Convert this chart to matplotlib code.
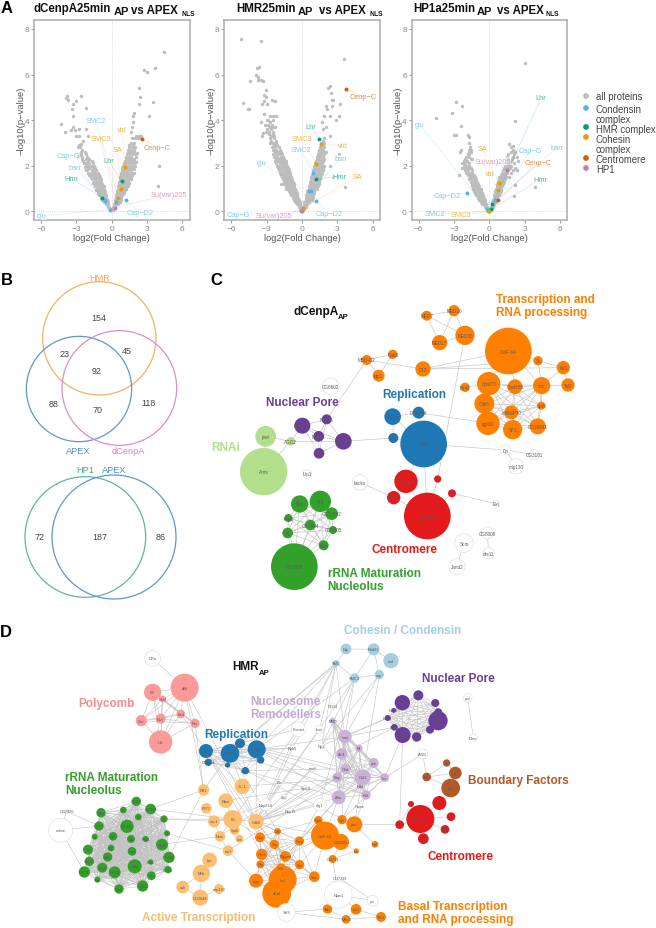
import itertools
import matplotlib
matplotlib.use("Agg")
import matplotlib.pyplot as plt
from matplotlib.patches import Circle

plt.rcParams['font.family'] = ['Liberation Sans', 'DejaVu Sans']

# ---------- colours ----------
GREY = '#bdbdbd'
COND, HMRC, COH, CEN, HP1C = '#56B4E9', '#009E73', '#E69F00', '#D55E00', '#CC79A7'

# ---------- panel A: dense cloud, rows of log10 p : log2 FC values ----------
p1_cloud = {
 .05:[.05,-.05,.1,-.1], .1:[.1,.15,-.1,-.15], .2:[.1,.2,.3,-.2,-.3], .3:[.2,.3,.4,.5,-.3,-.4,-.5],
 .4:[.25,.4,.55,.7,-.35,-.5,-.65], .5:[.3,.45,.6,.75,-.4,-.55,-.7,-.85], .6:[.35,.5,.65,.8,-.45,-.6,-.75,-.9],
 .7:[.4,.55,.7,.85,-.5,-.65,-.8,-.95,-1.05], .8:[.45,.6,.75,.9,1.0,-.55,-.7,-.85,-1,-1.15],
 .9:[.45,.6,.75,.9,1.05,-.6,-.75,-.9,-1.05,-1.2], 1.0:[.5,.65,.8,.95,1.1,-.65,-.8,-.95,-1.1,-1.25],
 1.1:[.55,.7,.85,1,1.15,1.3,-.7,-.85,-1,-1.15,-1.3], 1.2:[.6,.75,.9,1.05,1.2,1.35,-.8,-.95,-1.1,-1.25,-1.4],
 1.3:[.65,.8,.95,1.1,1.25,1.4,-.9,-1.05,-1.2,-1.35,-1.5], 1.4:[.7,.85,1,1.15,1.3,1.45,-.95,-1.1,-1.3,-1.45],
 1.5:[.7,.85,1,1.2,1.35,1.5,-1,-1.2,-1.4,-1.6], 1.6:[.75,.9,1.05,1.25,1.4,1.55,-1.1,-1.3,-1.5,-1.7],
 1.7:[.8,1,1.15,1.3,1.5,1.7,-1.2,-1.4,-1.6,-1.8], 1.8:[.85,1.05,1.2,1.4,1.6,-1.3,-1.5,-1.7],
 1.9:[.9,1.1,1.3,1.5,1.7,-1.4,-1.6,-1.9], 2.0:[.95,1.15,1.35,1.55,1.8,-1.5,-1.8,-2.0],
 2.1:[1.05,1.25,1.45,1.65,1.9,-1.6,-1.9,-2.2], 2.2:[1.1,1.3,1.5,1.7,-1.7,-2.0,-2.4],
 2.3:[1.2,1.4,1.6,1.85,-1.9,-2.2], 2.4:[1.25,1.45,1.65,-2.1,-2.5], 2.5:[1.3,1.5,1.75,2.0,-2.2,-2.7],
 2.6:[1.4,1.6,1.85,-2.3,-2.6], 2.7:[1.4,1.65,1.9,-2.5], 2.8:[1.5,1.7,2.0,-2.7,-2.9], 2.9:[1.5,1.8,-2.8],
 3.0:[1.6,1.9], 3.2:[1.7,2.0,2.2,2.4], 3.3:[2.1,2.3,2.5],
}
p1_out_x = [4.4,2.7,3.0,3.7,2.3,2.4,3.5,3.2,2.3,1.9,1.8,1.8,1.7,1.6,4.0,3.95,-3.8,-3.85,-3.75,-2.6,-3.0,-3.3,-3.4,-2.2,-3.3,-4.3,-3.95,-3.5,-3.0,-2.8,-2.2,-2.0,-3.3,-3.1,-2.75,-2.65,-2.75,-2.4,-2.9,
 1.25,1.4,1.5,1.6,1.65,1.75,1.85,1.9,1.95,2.05,1.9,2.05,2.15,-1.35,-1.45,-1.55,-1.65,-1.8,-1.9,-2,-2.05,-2.2,-2.35,-2.5,-2.6,-2.15,-2.3]
p1_out_y = [7.0,6.2,6.1,6.3,5.4,5.0,4.8,4.2,4.7,4.3,4.2,3.9,3.7,3.5,2.0,1.1,5.05,4.95,4.9,5.05,4.85,4.7,4.5,4.55,4.2,3.85,3.5,3.55,3.3,3.6,3.6,3.3,3.7,3.55,3.3,2.95,2.85,3.1,2.4,
 1.0,1.1,1.25,1.4,1.5,1.6,1.7,1.85,2.0,2.15,2.25,2.4,2.55,.95,1.1,1.25,1.4,1.5,1.6,1.7,1.85,2.0,2.1,2.3,2.45,1.8,1.95]

p2_cloud = {
 .05:[.05,-.05,.1,-.1], .1:[.1,.15,-.1,-.15], .2:[.1,.2,.3,-.1,-.2,-.3], .3:[.15,.25,.35,.45,-.15,-.25,-.35,-.45],
 .4:[.2,.3,.4,.5,.6,-.2,-.3,-.4,-.5,-.6], .5:[.3,.4,.5,.6,.7,.85,-.3,-.4,-.5,-.6,-.7], .6:[.3,.45,.6,.75,.9,-.35,-.5,-.65,-.8],
 .7:[.35,.5,.65,.8,.95,-.4,-.55,-.7,-.85,-.95], .8:[.4,.55,.7,.85,1.0,-.45,-.6,-.75,-.9,-1.05],
 .9:[.45,.6,.75,.9,1.05,-.5,-.65,-.8,-.95,-1.1], 1.0:[.55,.7,.85,1,1.15,1.3,-.6,-.75,-.9,-1.05,-1.2,-1.35],
 1.1:[.6,.75,.9,1.05,1.2,1.35,-.65,-.8,-.95,-1.1,-1.25,-1.4], 1.2:[.65,.8,.95,1.1,1.25,1.4,-.7,-.85,-1,-1.15,-1.3,-1.5],
 1.3:[.7,.85,1,1.15,1.3,1.45,-.8,-.95,-1.1,-1.25,-1.4,-1.55], 1.4:[.75,.9,1.05,1.2,1.35,1.5,-.85,-1,-1.15,-1.3,-1.45,-1.6],
 1.5:[.8,.95,1.1,1.25,1.4,1.55,-.9,-1.05,-1.2,-1.35,-1.5,-1.7], 1.6:[.85,1,1.15,1.3,1.45,1.6,-1,-1.15,-1.3,-1.45,-1.6,-1.8],
 1.7:[.9,1.05,1.2,1.35,1.5,1.7,-1.05,-1.2,-1.35,-1.5,-1.7,-1.9], 1.8:[.95,1.1,1.25,1.4,1.55,1.75,-1.1,-1.25,-1.4,-1.55,-1.75,-1.95],
 1.9:[1,1.15,1.3,1.45,1.6,1.8,-1.2,-1.35,-1.5,-1.7,-1.9,-2.05], 2.0:[1.05,1.2,1.35,1.5,1.65,1.85,-1.3,-1.45,-1.6,-1.8,-2,-2.15],
 2.1:[1.1,1.25,1.4,1.55,1.7,-1.35,-1.5,-1.7,-1.9,-2.2], 2.2:[1.2,1.35,1.5,1.65,1.8,-1.4,-1.6,-1.8,-2,-2.3],
 2.3:[1.25,1.4,1.55,1.7,1.9,-1.5,-1.7,-1.95,-2.2], 2.4:[1.3,1.45,1.6,1.75,-1.6,-1.8,-2.1,-2.35],
 2.5:[1.35,1.5,1.65,1.85,-1.7,-1.95,-2.2,-2.5], 2.6:[1.4,1.55,1.75,2.05,-1.8,-2.05,-2.3], 2.7:[1.45,1.6,1.8,-1.9,-2.2,-2.5],
 2.8:[1.5,1.65,1.9,-1.95,-2.3,-2.55], 2.9:[1.6,1.8,-2.1,-2.4], 3.0:[1.65,1.85,-2.2,-2.5,-2.75], 3.1:[1.75,-2.25,-2.6],
 3.2:[1.9,-2.35,-2.7], 3.3:[-2.4,-2.6], 3.4:[-2.45,-2.8], 3.5:[-2.5,-2.8], 3.6:[-2.6], 3.7:[-2.3,-2.7], 3.8:[-2.55,-2.9],
 3.9:[-2.75], 4.0:[-2.5,-2.85,-2.95], 4.2:[-2.2,-2.45,-2.7],
}
p2_out_x = [3.55,3.75,3.2,2.4,2.2,2.45,2.5,2.6,2.5,2.4,2.15,2.0,1.9,2.85,3.1,2.4,2.0,1.8,1.7,3.65,3.1,2.4,2.6,-5.15,-3.45,-3.65,-3.85,-3.95,-3.75,-3.45,-3.3,-3.1,-3.7,-3.1,-3.2,-4.4,-5.05,-4.6,-4.5,-3.0,-2.55,-2.3,-3.2,-3.4,-3.25,-3.5,-3.15,-3.1,-2.5,-2.8,-3.3,-3.0,-1.75,-3.4]
p2_out_y = [6.7,5.35,4.7,5.5,5.4,5.2,4.9,4.9,4.6,4.2,4.5,4.6,4.2,4.0,4.2,3.3,3.7,3.6,3.9,1.05,2.5,2.0,1.5,7.55,7.45,6.35,6.3,6.0,5.9,5.75,5.7,5.3,5.75,5.0,4.85,5.7,4.75,4.5,4.5,4.7,4.9,4.85,5.1,4.7,4.25,3.9,3.8,3.5,3.7,3.45,3.45,3.6,1.2,3.3]

p3_cloud = {
 .05:[.05,-.05,.1,-.1], .1:[.1,.15,-.1,-.15,-.2], .2:[.1,.2,.3,-.2,-.3,-.4], .3:[.2,.3,.4,-.3,-.4,-.5,-.6],
 .4:[.25,.35,.45,.55,-.35,-.5,-.65,-.75], .5:[.3,.4,.5,.6,-.4,-.55,-.7,-.85], .6:[.35,.45,.55,.65,-.5,-.65,-.8,-.95],
 .7:[.4,.5,.6,.7,.85,-.55,-.7,-.85,-1.0,-1.15], .8:[.45,.55,.65,.75,.9,-.6,-.75,-.9,-1.05,-1.2],
 .9:[.5,.6,.7,.8,.95,-.7,-.85,-1.0,-1.15,-1.3], 1.0:[.55,.65,.75,.85,1.0,-.75,-.9,-1.05,-1.2,-1.4],
 1.1:[.6,.7,.8,.9,1.05,-.85,-1.0,-1.15,-1.3,-1.5], 1.2:[.65,.75,.85,.95,1.15,-.95,-1.1,-1.25,-1.45], 1.3:[.7,.8,.9,1.05,1.2,-1.05,-1.2,-1.35,-1.55],
 1.4:[.8,.95,1.1,1.3,-1.15,-1.3,-1.5,-1.7], 1.5:[.85,1.0,1.2,1.4,1.7,-1.25,-1.45,-1.65], 1.6:[.95,1.15,1.35,-1.3,-1.55,-1.8,-2.6],
 1.7:[1.05,1.3,1.5,1.8,-1.45,-1.7,-2.0], 1.8:[1.15,1.4,1.6,2.0,-1.5,-1.8,-2.1], 1.9:[1.25,1.45,1.75,2.2,-1.6,-1.85,-2.1,-2.3],
 2.0:[1.3,1.6,1.85,-1.7,-1.95,-2.2], 2.1:[1.45,1.7,2.1,-1.75,-2.05,-2.3], 2.2:[1.5,1.8,2.4,-1.9,-2.2,-2.0], 2.3:[1.6,1.9,-2.05,-1.6,-1.5],
 2.4:[1.5,2.0,2.3,-1.95,-1.75], 2.5:[1.6,2.1,-1.8,-1.7], 2.6:[1.8,2.2,-2.5,-1.6,-1.75], 2.7:[2.0,-2.45,-1.55,-1.7], 2.8:[1.85,-1.65],
}
p3_out_x = [3.0,2.2,1.7,2.0,2.1,2.0,1.6,2.3,2.2,3.85,2.1,-2.8,-2.3,-4.5,-3.2,-2.45,-3.0,-2.85,-1.85,-1.75,-1.7]
p3_out_y = [6.5,3.95,2.95,2.85,2.6,2.4,2.1,1.8,1.15,1.05,.68,4.8,4.6,4.1,4.3,3.75,3.35,3.35,3.35,3.25,3.0]

# highlighted proteins: name, x, y, colour key, label x, label y
p1_hits = [('SMC2',.35,.4,COND,-1.36,3.98),('SMC3',.55,.6,COH,-.9,3.2),('vtd',1.1,1.95,COH,.88,3.6),('SA',.8,1.0,COH,.45,2.73),
 ('Cap\u2212G',-.55,.45,COND,-3.7,2.43),('barr',-.6,.5,COND,-3.15,1.93),('Lhr',.85,1.33,HMRC,-.28,2.22),('Hmr',-.8,.6,HMRC,-3.45,1.43),
 ('Cenp\u2212C',2.6,3.15,CEN,3.88,2.8),('Su(var)205',.25,.15,HP1C,4.85,.75),('Cap\u2212D2',1.25,.48,COND,2.44,-.06),('glu',-.15,.08,COND,-5.95,-.2)]
p2_hits = [('Cenp\u2212C',3.75,5.35,CEN,5.2,5.03),('Lhr',1.45,3.15,HMRC,.7,3.7),('SMC3',1.2,2.08,COH,0,3.2),('vtd',1.6,2.97,COH,3.48,2.87),
 ('SMC2',.95,1.7,COND,-.08,2.7),('barr',.75,.87,COND,3.28,2.3),('glu',.55,.87,COND,-3.45,2.13),('Hmr',1.2,1.42,HMRC,3.2,1.52),
 ('SA',.1,.15,COH,4.7,1.52),('Cap\u2212D2',1.2,.47,COND,2.3,-.09),('Cap\u2212G',-.05,.03,COND,-5.4,-.16),('Su(var)205',0,.02,HP1C,-2.38,-.18)]
p3_hits = [('Lhr',.25,.3,HMRC,4.39,4.98),('glu',-.2,.1,COND,-5.92,3.8),('barr',.5,.48,COND,5.78,2.8),('SA',.8,1.25,COH,-.6,2.75),
 ('Cap\u2212G',.1,.12,COND,3.5,2.66),('Su(var)205',1.5,1.82,HP1C,.28,2.2),('Cenp\u2212C',.75,.5,CEN,4.16,2.16),('vtd',.75,.95,COH,0,1.64),
 ('Hmr',.15,.1,HMRC,4.33,1.4),('Cap\u2212D2',-1.9,.8,COND,-3.6,.7),('SMC2',-.1,0,COND,-4.65,-.1),('SMC3',-.05,0,COH,-2.4,-.15)]

legend_names = ['all proteins','Condensin','complex','HMR complex','Cohesin','complex','Centromere','HP1']
legend_line_y = [97,110,120,130,140,150,160,170]
legend_dot_y = [97,109,128,138,159,169]
legend_dot_c = [GREY,COND,HMRC,COH,CEN,HP1C]

# ---------- panel C network: label, x, y, radius ----------
C_ORANGE = [('MED7',680,140,15),('MED20',762,125,17),('MED30',795,199,29),('MED17',719,221,23),('CstF-64',925,246,70),('Rpb8',578,256,14),
 ('MBD-R2',500,273,15),('D12',669,300,23),('dgt1',536,320,18),('Sk',1014,275,14),('TafS',1090,296,20),('Taf2',1104,348,20),('Cpsf73',866,344,35),
 ('Cpsf160',945,353,22),('cbc',1025,350,26),('Bx42',795,355,14),('Cdk5',853,404,30),('Spt5',1024,410,12),('snRNP70',934,430,21),('CG16841',1013,472,24),
 ('rgp30',864,463,35),('SF1',938,482,29)]
C_BLUE = [('POLD',578,443,25),('DNA-pol',656,431,18),('Rfc',580,507,15),('Orc2',671,525,70)]
C_RED = [('dCenpC',618,637,35),('Cr',713,630,11),('Hmr',581,686,20),('Lhr',756,673,12),('dCenpA',682,741,70)]
C_PURPLE = [('Nup44A',307,470,24),('Nup75',380,451,15),('Nup37',356,502,16),('Nup107',430,517,25),('Mtor',357,553,16)]
C_LGREEN = [('piwi',197,502,31),('AGO2',272,517,13),('Armi',191,608,71)]
C_GREEN = [('Bka',299,705,26),('Nuf',361,697,32),('CG17642',395,734,19),('Rrp6',265,747,12),('CG5654',331,768,16),('CG9705',399,783,12),('Ki',263,792,16),('Nop',371,829,15),('CG7086',283,893,70)]
C_WHITE = [('CG8602',392,352,25),('Ulp1',322,615,13),('Dp',917,543,15),('CG3181',1003,557,15),('mip130',948,592,23),('bocks',480,640,23),('Ext',888,704,11),
 ('Scm',792,822,28),('Jarid2',771,893,24),('CG8009',862,792,18),('dre11',866,853,17)]
C_EDGES = [('MED7','MED20'),('MED7','MED30'),('MED20','MED30'),('MED7','MED17'),('MED20','MED17'),('MED30','MED17'),('Rpb8','MBD-R2'),('MBD-R2','dgt1'),('Rpb8','dgt1'),
 ('MBD-R2','D12'),('D12','CstF-64'),('D12','Sk'),('D12','TafS'),('CstF-64','Sk'),('Sk','TafS'),('TafS','Taf2'),('cbc','Taf2'),('cbc','TafS'),('Sk','cbc'),('CstF-64','Cpsf73'),
 ('CstF-64','Cpsf160'),('CstF-64','cbc'),('Bx42','Cpsf73'),('MBD-R2','Nup75'),('MED30','Cr'),('DNA-pol','rgp30'),('POLD','DNA-pol'),('POLD','Rfc'),('DNA-pol','Orc2'),('Rfc','Orc2'),('POLD','Orc2'),
 ('Orc2','Dp'),('Dp','CG3181'),('Dp','mip130'),('Orc2','dCenpA'),('Orc2','dCenpC'),('dCenpC','dCenpA'),('Hmr','dCenpA'),('Hmr','dCenpC'),('Cr','dCenpA'),('Lhr','dCenpA'),('Lhr','Ext'),('bocks','Hmr'),
 ('Nup107','Rfc'),('AGO2','piwi'),('AGO2','Armi'),('AGO2','Nup44A'),('AGO2','Nup107'),('piwi','Armi'),('Scm','Jarid2'),('CG8009','dre11')]
C_CLIQUES = [['Cpsf73','Cpsf160','cbc','Cdk5','Spt5','snRNP70','CG16841','rgp30','SF1'],['Nup44A','Nup75','Nup37','Nup107','Mtor'],
 ['Bka','Nuf','CG17642','Rrp6','CG5654','CG9705','Ki','Nop','CG7086']]

# ---------- panel D network: label, x, y, radius ----------
D_PINK = [('dMi',554,191,42),('Pcl',458,205,26),('Ref2',488,225,10),('Sce',424,290,17),('E(z)',482,284,15),('Eed',542,270,13),('Psc',585,298,14),('Utx',482,354,35)]
D_BLUE = [('Orc1',618,381,21),('PCNA',690,388,28),('Orc5',720,358,15),('Chrac',770,376,27),('Mcm',782,408,11),('DNApol',625,415,11),('Rfc',683,423,8),('Mcm5',736,440,11)]
D_LORANGE = [('JIL-1',727,487,23),('Rtf1',611,498,17),('Rbm',677,530,22),('GPO',619,553,16),('ms-1',642,592,18),('En',698,586,28),('Spt6',704,618,15),('Nsm',660,637,16),
 ('Iws',718,644,12),('ms7',684,680,16),('Lpt',629,708,22),('Mcb',604,748,26),('ash',548,789,19),('CG3848',601,821,24),('mip130',657,795,15),('Cdk9',768,593,23)]
D_ORANGE = [('Rpb',955,589,13),('CstF-64',975,635,42),('Nup',780,640,15),('Cdk',833,622,10),('Srp',823,661,14),('Hum',785,691,17),('Ssrp',898,651,14),('Nipped',856,697,16),
 ('Rrp',781,721,12),('Spt',899,722,14),('Tef2',843,733,15),('elgy',768,770,21),('Incl',848,767,42),('dCtd',830,808,43),('Sox',943,758,16),('Taf',980,855,12),
 ('Rpt',1026,587,14),('pan',1063,601,24),('CG5000',1023,654,24),('tsu',1069,681,8),('Rpl',1125,661,10),('CG711',998,705,12),('hs1',983,855,14),('pol2',1068,856,16),('Mtor2',1038,886,13),('TSG',1143,879,15)]
D_GREEN = [('CG31',409,532,14),('Mtm',303,566,14),('Ttf',370,558,10),('CG844',452,555,16),('Tsf',415,579,10),('Sfr',492,585,11),('CG97',297,606,14),('CG391',381,607,20),
 ('Nol',339,637,13),('Rrp4',437,645,9),('Ns',393,645,12),('Ctr',501,628,9),('Nop5',486,662,18),('Rb',284,638,9),('Rl1',333,672,10),('fcl',264,677,15),('Nog',396,682,13),('Wdr',323,699,14),
 ('CG509',507,700,17),('CG54',268,712,14),('Dbp',404,727,21),('Ppan',307,731,15),('Pwp',452,714,8),('CG33',504,737,11),('CG52',344,745,18),('CG71',253,744,17),('Rrs',454,755,13),('Nat',292,767,9),('Nmd',357,795,14),('CG85',428,786,17)]
D_LBLUE = [('SMC',1008,118,10),('Nip',1038,75,16),('Rad21',1121,76,18),('cnd',1173,110,23),('SMC3',1064,162,14),('cap',1138,152,14)]
D_LPURPLE = [('ismj',1035,338,20),('MBD',998,290,9),('Acf1',1025,390,17),('Mi',1077,373,11),('ptw',1121,417,15),('Chd',1037,434,15),('Caf1',1088,460,24),('Bap',1012,460,15),('Ino',1154,461,13),('Rsf',1098,513,14),('Ada',1016,520,21),('Hda',1080,487,8)]
D_PURPLE = [('CG5',1207,236,23),('Nup9',1255,214,15),('Nup6',1306,237,12),('Nup5',1315,265,12),('Nup3',1163,282,9),('Nup2',1181,259,7),('Nup1',1314,290,29),('Nup0',1183,310,10),('gp',1290,317,12),('Nup98',1208,333,24),('gp2',1250,339,14)]
D_RED = [('pr',1318,537,21),('Sgt',1233,540,9),('dCenpC',1261,585,42),('pl',1353,578,13),('Spc',1199,602,13),('Mis',1335,616,13),('Cal',1270,644,16)]
D_BROWN = [('Su',1340,417,11),('Pita',1280,459,13),('ps',1366,447,19),('Bs2',1352,492,28)]
D_WHITE = [('CRn',458,103,24),('active',182,619,36),('CG2926',200,562,7),('Kismet',895,316,22),('Iswi',958,316,13),('CG34',998,245,9),('Rpb5',878,372,8),('Hp1',965,365,8),('mod',938,433,9),
 ('Bre',840,475,9),('Spt16',918,492,8),('Nup214',797,542,18),('Ssl',852,520,8),('Nup35',872,560,8),('elg1',960,542,19),('Huwe',1078,545,8),('Ntan1',1015,812,41),('yw',1118,830,16),('CG7339',1021,763,8),('SH3',859,865,27),
 ('A001',1268,390,15),('prd',1403,221,13),('Chro',1420,341,12)]
D_CROSS = [('SMC','Kismet'),('SMC','Rpb5'),('SMC','Orc5'),('SMC','Chrac'),('SMC','Hp1'),('SMC','PCNA'),('SMC','Iswi'),('SMC','ismj'),('SMC3','ismj'),('SMC3','Iswi'),('SMC3','Hp1'),('SMC3','Chrac'),('SMC3','elg1'),
 ('cap','ismj'),('cap','Hp1'),('cap','Caf1'),('SMC','Nip'),('Nip','Rad21'),('Rad21','cnd'),('Rad21','SMC3'),('SMC3','cap'),('cap','Rad21'),('SMC','SMC3'),
 ('dMi','Rtf1'),('dMi','Cdk9'),('Eed','Cdk9'),('Psc','Rtf1'),('CRn','dMi'),('Orc1','JIL-1'),('PCNA','Cdk9'),('PCNA','Rtf1'),('PCNA','Cdk'),('Chrac','Cdk9'),('Chrac','Rsf'),('Chrac','Ada'),('Chrac','Caf1'),('Chrac','ismj'),('Orc5','Ino'),
 ('PCNA','Rsf'),('Orc1','Hum'),('Orc1','Nup'),('Mcm5','Ada'),('Mcm5','Chd'),('Mcm5','pan'),('JIL-1','Caf1'),('Rtf1','CG509'),('Rtf1','CG844'),('En','CG844'),('ms-1','Sfr'),('ms7','Ctr'),('Nsm','Nop5'),('En','Sfr'),
 ('Cdk9','Ada'),('Cdk9','Caf1'),('Cdk9','Nup'),('Cdk9','Cdk'),('Cdk9','Srp'),('Cdk9','Nipped'),('Cdk9','CstF-64'),('Cdk9','Ssrp'),('En','Cdk9'),('En','Nup'),('ms-1','En'),('Rbm','En'),('GPO','ms-1'),('ms-1','Nsm'),('Nsm','ms7'),('Nsm','En'),
 ('ms7','elgy'),('Lpt','Mcb'),('Mcb','ash'),('Mcb','CG3848'),('CG3848','mip130'),('ash','CG3848'),('Ada','CstF-64'),('Ada','Rpb'),('Ada','Ssrp'),('Caf1','Rpt'),('Caf1','pan'),('ismj','Rpt'),('Rsf','pan'),('Ino','Rpt'),('Ino','Nup98'),('ismj','Nup3'),('ismj','Nup0'),
 ('Acf1','Nup0'),('Hp1','Nup3'),('Nup98','Spc'),('Spc','dCenpC'),('Spc','pan'),('Spc','Sgt'),('dCenpC','pr'),('dCenpC','pl'),('dCenpC','Mis'),('dCenpC','Cal'),('dCenpC','Sgt'),('Pita','Su'),('Pita','Bs2'),('Pita','ps'),('ps','Bs2'),('Su','ps'),('A001','Pita'),('A001','Ino'),('prd','Chro'),
 ('Ntan1','CG7339'),('Ntan1','hs1'),('Ntan1','pol2'),('Ntan1','yw'),('CG7339','yw'),('pol2','TSG'),('pol2','Mtor2'),('Mtor2','TSG'),('hs1','Mtor2'),('SH3','Taf'),('Taf','hs1'),('SH3','Mtor2'),('active','CG2926'),('CG2926','CG97'),('active','CG97'),('active','CG71'),
 ('CG711','Ntan1'),('CG5000','CG711'),('CG5000','CstF-64'),('tsu','CG5000'),('Rpl','pan'),('CG711','tsu'),('Ssrp','elg1'),('Bre','Cdk9'),('Kismet','Orc1'),('Kismet','En'),('Kismet','Cdk9'),('Iswi','Cdk9'),('Iswi','Nup214'),('Rpb5','PCNA'),('Rpb5','Orc1'),('Rpb5','Nup214'),('Hp1','Chd'),('mod','Cdk9'),('mod','Ssl'),('Spt16','Cdk9'),('Spt16','Rbm'),('Nup214','ms-1'),('Nup214','Nsm'),('Nup35','ms7'),('Nup35','Cdk9'),('elg1','Cdk9'),('Bap','Cdk9'),('Bap','Nup35'),('Chd','Cdk9')]

# ---------- figure ----------
fig = plt.figure(figsize=(6.56, 9.29), dpi=100)
W, H = 656, 929

def axes_px(l, t, w, h, **kw):
    return fig.add_axes([l / W, 1 - (t + h) / H, w / W, h / H], **kw)

def volcano(l, cloud, ox, oy, hits):
    ax = axes_px(l, 21, 155.5, 200)
    ax.set_xlim(-6.6, 6.6); ax.set_ylim(-.38, 8.39)
    for sp in ax.spines.values():
        sp.set_color('#ababab'); sp.set_linewidth(1.1)
    ax.axvline(0, color='#cfcfcf', lw=.6, ls=':', zorder=1)
    ax.axhline(0, color='#cfcfcf', lw=.6, ls=':', zorder=1)
    cx = [x for y, xs in cloud.items() for x in xs] + ox
    cy = [y for y, xs in cloud.items() for x in xs] + oy
    ax.scatter(cx, cy, s=6, c=GREY, linewidths=0, zorder=2)
    for name, x, y, col, lx, ly in hits:
        ax.plot([x, lx], [y, ly], color=col, alpha=.22, lw=.5, zorder=2.5)
        ax.scatter([x], [y], s=8, c=col, linewidths=0, zorder=3)
        ax.text(lx, ly, name, color=col, alpha=.72, fontsize=5.3, ha='center', va='center', zorder=4,
                bbox=dict(fc='white', ec='none', alpha=.5, pad=.3))
    ax.set_xticks([-6, -3, 0, 3, 6]); ax.set_xticklabels(['\u22126', '\u22123', '0', '3', '6'])
    ax.set_yticks([0, 2, 4, 6, 8])
    ax.tick_params(colors='#8a8a8a', labelsize=6, length=2, width=.6, pad=1.5)
    ax.set_xlabel('log2(Fold Change)', fontsize=6.7, color='#555555', labelpad=1)
    ax.set_ylabel('\u2212log10(p\u2212value)', fontsize=6.8, color='#555555', labelpad=-.5)
    return ax

volcano(34, p1_cloud, p1_out_x, p1_out_y, p1_hits)
volcano(224.3, p2_cloud, p2_out_x, p2_out_y, p2_hits)
volcano(411.7, p3_cloud, p3_out_x, p3_out_y, p3_hits)

# overlay in pixel units for titles, legend, panel letters
ov = fig.add_axes([0, 0, 1, 1], zorder=10)
ov.set_xlim(0, W); ov.set_ylim(H, 0); ov.axis('off'); ov.patch.set_alpha(0)

def T(x, y, s, size=8.3, weight='bold', color='#111111', ha='left', va='baseline', **kw):
    ov.text(x, y, s, fontsize=size, fontweight=weight, color=color, ha=ha, va=va, **kw)

for letter, x, y in [('A', 1, 13), ('B', 1, 285), ('C', 210, 285), ('D', 0, 637)]:
    T(x, y, letter, size=12, color='black')

title_parts = [[(33, 12, 'dCenpA25min', 8.3), (114, 14.5, 'AP', 8.0), (131, 13.5, 'vs APEX', 8.3), (181, 16, 'NLS', 4.9)],
               [(236, 12, 'HMR25min', 8.3), (298, 14.5, 'AP', 8.0), (319, 13.5, 'vs APEX', 8.3), (369, 16, 'NLS', 4.9)],
               [(413, 12, 'HP1a25min', 8.3), (477, 14.5, 'AP', 8.0), (497, 13.5, 'vs APEX', 8.3), (545, 16, 'NLS', 4.9)]]
for parts in title_parts:
    for x, y, s, sz in parts:
        T(x, y, s, size=sz)

# legend
ov.scatter([586] * len(legend_dot_y), legend_dot_y, s=17, c=legend_dot_c, linewidths=0)
for name, y in zip(legend_names, legend_line_y):
    ov.text(596, y, name, fontsize=6.9, color='#444444', va='center')

# ---------- venn ----------
vn = axes_px(0, 250, 200, 360)
vn.set_xlim(0, 600); vn.set_ylim(1080, 0); vn.axis('off'); vn.set_aspect('equal')
venn_circles = [(298, 268, 170, '#f0b362'), (237, 420, 158, '#5f97cf'), (358, 417, 172, '#dc8fbc'), (256, 864, 181, '#5fb795'), (342, 864, 186, '#5f97cf')]
for x, y, r, c in venn_circles:
    vn.add_patch(Circle((x, y), r, fill=False, ec=c, lw=.9))
for s, x, y, c in [('HMR', 298, 85, '#eda84f'), ('APEX', 236, 605, '#4d8cca'), ('dCenpA', 384, 605, '#d985b6'), ('HP1', 256, 663, '#45ad87'), ('APEX', 343, 663, '#4d8cca')]:
    vn.text(x, y, s, color=c, fontsize=6.7, ha='center', va='center')
for s, x, y in [('154', 295, 207), ('23', 195, 315), ('45', 381, 306), ('92', 290, 364), ('88', 162, 463), ('70', 293, 483), ('118', 446, 461), ('72', 117, 862), ('187', 298, 862), ('86', 482, 862)]:
    vn.text(x, y, s, color='#444444', fontsize=6.4, ha='center', va='center')

# ---------- network helpers ----------
def network(ax, groups, edges, ecol='#c4c4c4', ew=.45, tsize=2.5):
    pos = {}
    for nodes, fc in groups:
        for lab, x, y, r in nodes:
            pos[lab] = (x, y)
    for a, b in edges:
        if a in pos and b in pos:
            ax.plot([pos[a][0], pos[b][0]], [pos[a][1], pos[b][1]], color=ecol, lw=ew, zorder=1, solid_capstyle='round')
    for nodes, fc in groups:
        for lab, x, y, r in nodes:
            white = fc == 'white'
            ax.add_patch(Circle((x, y), r, fc=fc, ec='#dadada' if white else 'none', lw=.4, zorder=2))
            ax.text(x, y, lab, fontsize=tsize, color='#5a5a5a', ha='center', va='center', zorder=3)

# panel C
ac = axes_px(200, 270, 400, 350)
ac.set_xlim(0, 1200); ac.set_ylim(1050, 0); ac.axis('off'); ac.set_aspect('equal')
c_edges = list(C_EDGES)
for cl in C_CLIQUES:
    c_edges += list(itertools.combinations(cl, 2))
network(ac, [(C_ORANGE, '#ff7f00'), (C_BLUE, '#1f78b4'), (C_RED, '#e31a1c'), (C_PURPLE, '#6a3d9a'), (C_LGREEN, '#b2df8a'), (C_GREEN, '#33a02c'), (C_WHITE, 'white')], c_edges, tsize=3.3)
for s, x, y, c in [('Transcription and', 889, 90, '#ff7f00'), ('RNA processing', 889, 130, '#ff7f00'), ('Nuclear Pore', 198, 398, '#6a3d9a'), ('Replication', 547, 374, '#1f78b4'),
                   ('RNAi', 35, 533, '#b2df8a'), ('Centromere', 515, 839, '#e31a1c'), ('rRNA Maturation', 383, 912, '#33a02c'), ('Nucleolus', 383, 952, '#33a02c')]:
    ac.text(x, y, s, color=c, fontsize=8.5, fontweight='bold', ha='left', va='center')
ac.text(279, 126, 'dCenpA', fontsize=8.5, fontweight='bold', color='#111111', va='center')
ac.text(414, 142, 'AP', fontsize=5.6, fontweight='bold', color='#111111', va='center')

# panel D
ad = axes_px(0, 625, 656, 304)
ad.set_xlim(0, 1968); ad.set_ylim(912, 0); ad.axis('off'); ad.set_aspect('equal')
d_groups = [(D_PINK, '#fb9a99'), (D_BLUE, '#1f78b4'), (D_LORANGE, '#fdbf6f'), (D_ORANGE, '#ff7f00'), (D_GREEN, '#33a02c'), (D_LBLUE, '#a6cee3'), (D_LPURPLE, '#cab2d6'),
            (D_PURPLE, '#6a3d9a'), (D_RED, '#e31a1c'), (D_BROWN, '#b15928'), (D_WHITE, 'white')]
d_edges = list(D_CROSS)
d_sets = {'D_GREEN': D_GREEN, 'D_PURPLE': D_PURPLE, 'D_PINK': D_PINK, 'D_BLUE': D_BLUE, 'D_LPURPLE': D_LPURPLE}
for key, nodes in d_sets.items():
    d_edges += [(a[0], b[0]) for a, b in itertools.combinations(nodes, 2)]
d_edges += [(a[0], b[0]) for a, b in itertools.combinations(D_ORANGE[:15], 2) if abs(a[1] - b[1]) < 130 and abs(a[2] - b[2]) < 130]
network(ad, d_groups, d_edges, ecol='#c2c2c2', ew=.4, tsize=2.8)
for s, x, y, c in [('Polycomb', 235, 238, '#ee8f8e'), ('Replication', 614, 329, '#1f78b4'), ('Nucleosome', 752, 231, '#c4aad2'), ('Remodellers', 752, 270, '#c4aad2'),
                   ('rRNA Maturation', 195, 459, '#33a02c'), ('Nucleolus', 195, 498, '#33a02c'), ('Active Transcription', 425, 878, '#f3bd78'), ('Cohesin / Condensin', 1033, 18, '#a6cee3'),
                   ('Nuclear Pore', 1267, 163, '#6a3d9a'), ('Boundary Factors', 1403, 467, '#b15928'), ('Centromere', 1283, 697, '#e31a1c'), ('Basal Transcription', 1194, 846, '#ff7f00'), ('and RNA processing', 1194, 886, '#ff7f00')]:
    ad.text(x, y, s, color=c, fontsize=8.5, fontweight='bold', ha='left', va='center')
ad.text(697, 127, 'HMR', fontsize=8.5, fontweight='bold', color='#111111', va='center')
ad.text(775, 145, 'AP', fontsize=5.6, fontweight='bold', color='#111111', va='center')

fig.savefig('out.png', dpi=100)
